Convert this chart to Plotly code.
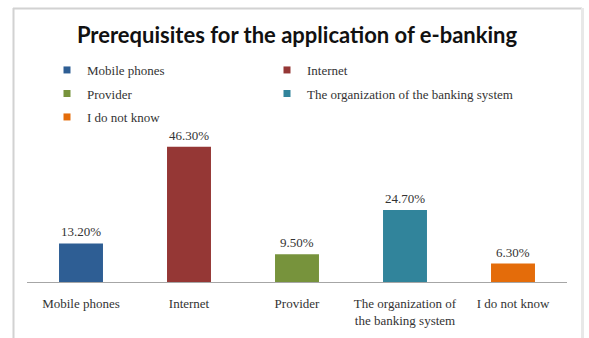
import plotly.graph_objects as go

# Survey results: prerequisites for the application of e-banking (%)
categories = ["Mobile phones", "Internet", "Provider",
              "The organization of the banking system", "I do not know"]
tick_text = ["Mobile phones", "Internet", "Provider",
             "The organization of<br>the banking system", "I do not know"]
shares = [13.2, 46.3, 9.5, 24.7, 6.3]
colors = ["#2E5E94", "#953735", "#77933C", "#31849B", "#E46C0A"]

W, H = 589, 338
M_L, M_R, M_T, M_B = 27, 22, 136, 56
Y_MAX = 50

SERIF = "Liberation Serif"

# legend grid: two entries per row (left edge px, row centre px)
legend_ids = ["legend", "legend2", "legend3", "legend4", "legend5"]
legend_cols = [47, 267, 47, 267, 47]
legend_rows = [70, 70, 93.5, 93.5, 117]

fig = go.Figure()

fig.add_trace(go.Bar(
    x=categories,
    y=shares,
    marker=dict(color=colors, line=dict(width=0)),
    showlegend=False,
    hoverinfo="x+y",
))

# legend entries: small square swatches
for name, col, lg in zip(categories, colors, legend_ids):
    fig.add_trace(go.Scatter(
        x=[None], y=[None], mode="markers", name=name, legend=lg,
        marker=dict(symbol="square", size=7, color=col),
        showlegend=True,
    ))

# value labels above each bar
for cat, val in zip(categories, shares):
    fig.add_annotation(
        x=cat, y=val, text=f"{val:.2f}%", showarrow=False,
        yanchor="bottom", yshift=2,
        font=dict(family=SERIF, size=13, color="#333333"),
    )

# light frame around the chart area
pw = W - M_L - M_R
ph = H - M_T - M_B
def px_x(p):
    return (p - M_L) / pw
def px_y(p):
    return (H - M_B - p) / ph

fig.add_shape(type="line", xref="paper", yref="paper",
              x0=px_x(13), x1=px_x(582), y0=px_y(8.5), y1=px_y(8.5),
              line=dict(color="#D2D2D2", width=2), layer="below")
fig.add_shape(type="line", xref="paper", yref="paper",
              x0=px_x(13.5), x1=px_x(13.5), y0=px_y(8), y1=px_y(340),
              line=dict(color="#D2D2D2", width=2), layer="below")
fig.add_shape(type="line", xref="paper", yref="paper",
              x0=px_x(582.5), x1=px_x(582.5), y0=px_y(8), y1=px_y(340),
              line=dict(color="#E8E8E8", width=3), layer="below")

legend_style = dict(
    orientation="h", xref="container", yref="container",
    xanchor="left", yanchor="middle",
    font=dict(family=SERIF, size=13, color="#333333"),
    bgcolor="rgba(0,0,0,0)", itemclick=False, itemdoubleclick=False,
)
legends = {
    lg: dict(x=lx / W, y=1 - ly / H, **legend_style)
    for lg, lx, ly in zip(legend_ids, legend_cols, legend_rows)
}

fig.update_layout(
    width=W, height=H,
    margin=dict(l=M_L, r=M_R, t=M_T, b=M_B),
    paper_bgcolor="white", plot_bgcolor="white",
    bargap=0.593,
    title=dict(
        text="<b>Prerequisites for the application of e-banking</b>",
        x=297 / W, xanchor="center", xref="container",
        y=1 - 35 / H, yanchor="middle", yref="container",
        font=dict(family="Lato", size=22, color="#111111"),
        automargin=False,
    ),
    xaxis=dict(
        tickmode="array", tickvals=categories, ticktext=tick_text,
        showline=True, linecolor="#A6A6A6", linewidth=1,
        showgrid=False, zeroline=False, ticks="",
        ticklabelstandoff=9, automargin=False,
        tickfont=dict(family=SERIF, size=13, color="#333333"),
        fixedrange=True,
    ),
    yaxis=dict(
        range=[0, Y_MAX], visible=False, showgrid=False,
        zeroline=False, fixedrange=True, automargin=False,
    ),
    **legends,
)

fig.write_html("out.html")
